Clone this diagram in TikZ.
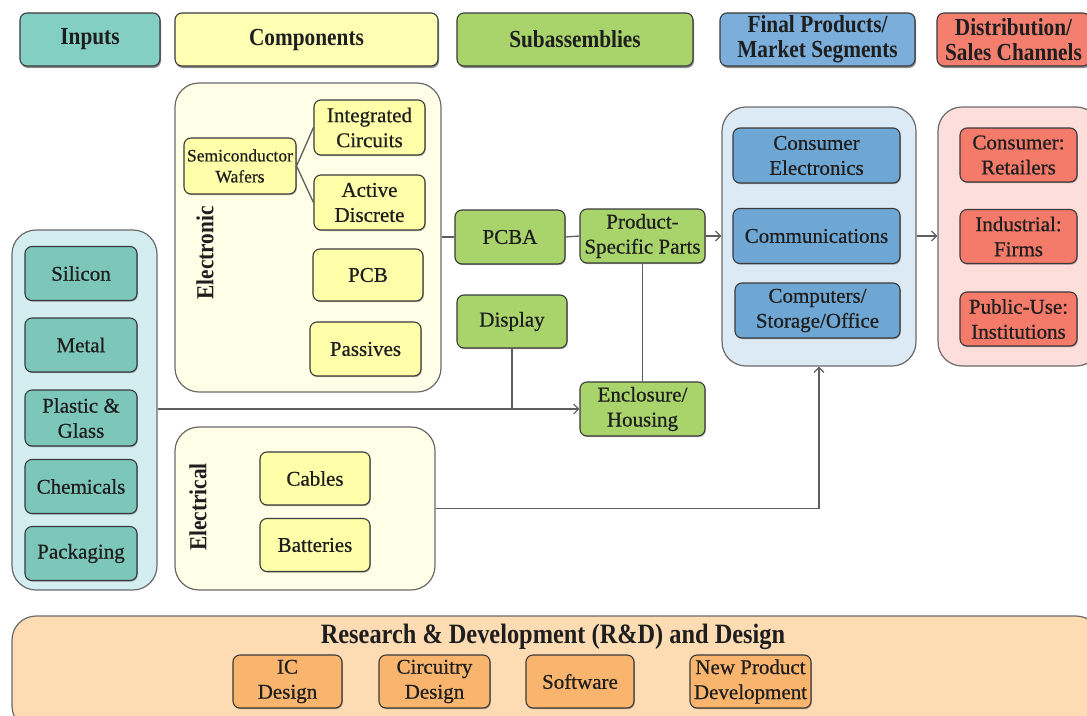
\documentclass[tikz,border=0pt]{standalone}
\usepackage{fontspec}
\setmainfont{Liberation Serif}
\newfontfamily\bodyfont[FakeBold=0.6]{Liberation Serif}
\newfontfamily\hdfont[FakeStretch=0.87]{Liberation Serif}
\usetikzlibrary{arrows.meta,shadows}
\definecolor{inHead}{HTML}{84CFC3}
\definecolor{inBox}{HTML}{7CC6BA}
\definecolor{inCont}{HTML}{D3EDF1}
\definecolor{coHead}{HTML}{FFFFB3}
\definecolor{coBox}{HTML}{FFFFAA}
\definecolor{coCont}{HTML}{FFFFE8}
\definecolor{suBox}{HTML}{A9D46C}
\definecolor{fiHead}{HTML}{7BAEDB}
\definecolor{fiBox}{HTML}{6FA7D4}
\definecolor{fiCont}{HTML}{DCEAF6}
\definecolor{diHead}{HTML}{F47F6E}
\definecolor{diBox}{HTML}{F47B6A}
\definecolor{diCont}{HTML}{FDDEDB}
\definecolor{rdCont}{HTML}{FDDBB3}
\definecolor{rdBox}{HTML}{F9B56D}
\definecolor{boxline}{HTML}{3A3A3A}
\definecolor{contline}{HTML}{6A6A6A}
\definecolor{conn}{HTML}{5E5E5E}
\definecolor{txt}{HTML}{1E1E1E}
\tikzset{
  hdr/.style={draw=boxline, line width=1.1pt, rounded corners=7pt, align=center, inner sep=0pt,
    text=txt, font=\hdfont\bfseries\fontsize{24.5}{25}\selectfont,
    drop shadow={shadow xshift=1pt, shadow yshift=-2pt, fill=black, opacity=0.45}},
  bx/.style={draw=boxline, line width=1.1pt, rounded corners=7pt, align=center, inner sep=0pt,
    text=txt, font=\bodyfont\fontsize{21}{25}\selectfont,
    drop shadow={shadow xshift=0.8pt, shadow yshift=-1.2pt, fill=black, opacity=0.3}},
  cont/.style={draw=contline, line width=1.2pt, rounded corners=24pt, inner sep=0pt},
  lab/.style={text=txt, font=\hdfont\bfseries\fontsize{24.5}{25}\selectfont, inner sep=0pt},
  ln/.style={draw=conn, line width=1.3pt},
  arr/.style={ln, -{Straight Barb[length=5pt,width=10pt,line width=1.2pt]}},
}
\begin{document}
\begin{tikzpicture}[x=1pt,y=-1pt]
\useasboundingbox (0,0) rectangle (1087,715);
\clip (0,0) rectangle (1087,715);
\fill[white] (0,0) rectangle (1087,715);
% headers
\node[hdr, fill=inHead, minimum width=140, minimum height=53] (hIn) at (90,39.5) {Inputs};
\node[hdr, fill=coHead, minimum width=263, minimum height=53] (hComp) at (306.5,39.5) {Components};
\node[hdr, fill=suBox, minimum width=236, minimum height=53] (hSub) at (575,39.5) {Subassemblies};
\node[hdr, fill=fiHead, minimum width=195, minimum height=53] (hFin) at (817.5,39.5) {Final Products/\\Market Segments};
\node[hdr, fill=diHead, minimum width=153, minimum height=53] (hDist) at (1013.5,39.5) {Distribution/\\Sales Channels};
% inputs
\node[cont, fill=inCont, minimum width=145, minimum height=360] (inputs) at (84.5,410) {};
\node[bx, fill=inBox, minimum width=112, minimum height=54] (silicon) at (81,273.5) {Silicon};
\node[bx, fill=inBox, minimum width=112, minimum height=54] (metal) at (81,345) {Metal};
\node[bx, fill=inBox, minimum width=112, minimum height=56] (plastic) at (81,418) {Plastic \&\\Glass};
\node[bx, fill=inBox, minimum width=112, minimum height=54] (chem) at (81,486.5) {Chemicals};
\node[bx, fill=inBox, minimum width=112, minimum height=54] (pack) at (81,553.5) {Packaging};
% electronic
\node[cont, fill=coCont, minimum width=266, minimum height=309] (elec) at (308,237.5) {};
\node[lab, rotate=90] (elecLab) at (205,253) {Electronic};
\node[bx, fill=coBox, minimum width=112, minimum height=56, font=\bodyfont\fontsize{17.5}{21}\selectfont] (sw) at (240,166) {Semiconductor\\Wafers};
\node[bx, fill=coBox, minimum width=111, minimum height=55] (ic) at (369.5,127.5) {Integrated\\Circuits};
\node[bx, fill=coBox, minimum width=111, minimum height=55] (ad) at (369.5,202.5) {Active\\Discrete};
\node[bx, fill=coBox, minimum width=110, minimum height=52] (pcb) at (368,275) {PCB};
\node[bx, fill=coBox, minimum width=111, minimum height=54] (pas) at (365.5,349) {Passives};
% electrical
\node[cont, fill=coCont, minimum width=260, minimum height=163] (elcl) at (305,508.5) {};
\node[lab, rotate=90] (elclLab) at (198,507) {Electrical};
\node[bx, fill=coBox, minimum width=110, minimum height=53] (cab) at (315,478.5) {Cables};
\node[bx, fill=coBox, minimum width=110, minimum height=53] (bat) at (315,545) {Batteries};
% subassemblies
\node[bx, fill=suBox, minimum width=110, minimum height=54] (pcba) at (510,237) {PCBA};
\node[bx, fill=suBox, minimum width=125, minimum height=54] (psp) at (642.5,236) {Product-\\Specific Parts};
\node[bx, fill=suBox, minimum width=110, minimum height=53] (disp) at (512,321.5) {Display};
\node[bx, fill=suBox, minimum width=125, minimum height=54] (encl) at (642.5,409) {Enclosure/\\Housing};
% final products
\node[cont, fill=fiCont, minimum width=194, minimum height=259] (final) at (819,236.5) {};
\node[bx, fill=fiBox, minimum width=167, minimum height=55] (ce) at (816.5,155.5) {Consumer\\Electronics};
\node[bx, fill=fiBox, minimum width=167, minimum height=55] (comm) at (816.5,236) {Communications};
\node[bx, fill=fiBox, minimum width=165, minimum height=55] (comp) at (817.5,310.5) {Computers/\\Storage/Office};
% distribution
\node[cont, fill=diCont, minimum width=162, minimum height=259] (dist) at (1019,236.5) {};
\node[bx, fill=diBox, minimum width=117, minimum height=54] (cr) at (1018.5,155) {Consumer:\\Retailers};
\node[bx, fill=diBox, minimum width=117, minimum height=54] (ifm) at (1018.5,236.5) {Industrial:\\Firms};
\node[bx, fill=diBox, minimum width=117, minimum height=54] (pu) at (1018.5,319) {Public-Use:\\Institutions};
% R&D
\node[cont, fill=rdCont, minimum width=1088, minimum height=114] (rd) at (556,673) {};
\node[lab, font=\hdfont\bfseries\fontsize{28}{30}\selectfont] (rdLab) at (553,637) {Research \& Development (R\&D) and Design};
\node[bx, fill=rdBox, minimum width=109, minimum height=53] (icd) at (287.5,681.5) {IC\\Design};
\node[bx, fill=rdBox, minimum width=111, minimum height=53] (cid) at (434.5,681.5) {Circuitry\\Design};
\node[bx, fill=rdBox, minimum width=108, minimum height=53] (sof) at (580,681.5) {Software};
\node[bx, fill=rdBox, minimum width=121, minimum height=53] (npd) at (750.5,681.5) {New Product\\Development};
% connectors
\draw[ln] (sw.east) -- (ic.west);
\draw[ln] (sw.east) -- (ad.west);
\draw[ln] (pcba.west -| elec.east) -- (pcba.west);
\draw[ln] (pcba.east) -- (psp.west);
\draw[arr] (psp.east) -- (psp.east -| final.west);
\draw[arr] (comm.east -| final.east) -- (comm.east -| dist.west);
\draw[ln] (psp.south) -- (encl.north);
\draw[arr] (encl.west -| inputs.east) -- (encl.west);
\draw[ln] (disp.south) -- (disp.south |- encl.west);
\draw[arr] (elcl.east) -| (final.south);
\end{tikzpicture}
\end{document}
